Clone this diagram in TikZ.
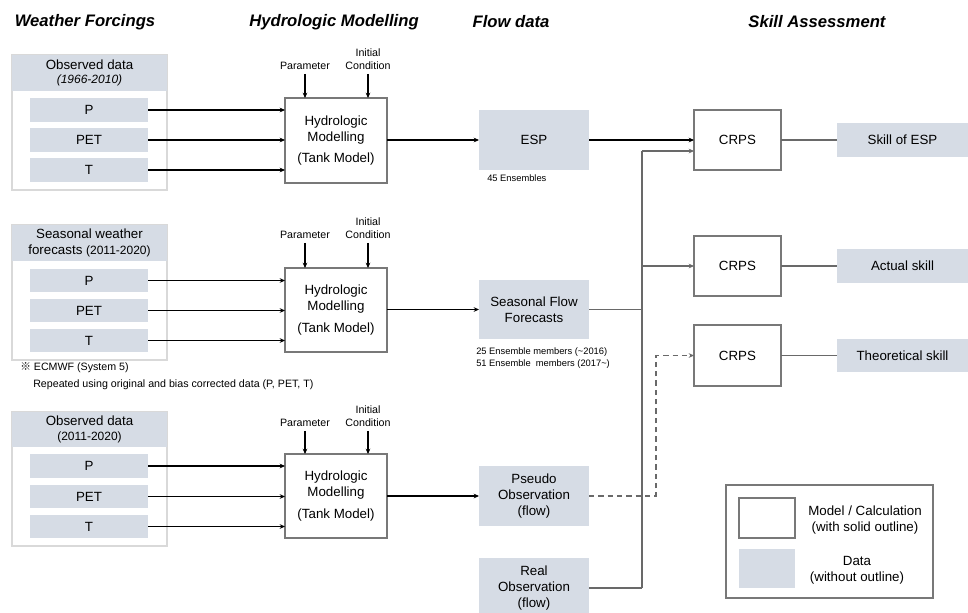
\documentclass[tikz,border=0pt]{standalone}
\usepackage{fontspec}
\setmainfont{Liberation Sans}
\newfontfamily\cjk{Noto Sans CJK JP}
\usetikzlibrary{arrows.meta}
\definecolor{datac}{RGB}{214,220,229}
\definecolor{modelc}{RGB}{120,120,120}
\definecolor{grpc}{RGB}{217,217,217}
\definecolor{linec}{RGB}{105,105,105}
\newcommand\bx[7]{\node[#2, minimum width={(#5-#3)*0.75pt}, minimum height={(#6-#4)*0.75pt}] (#1) at ({(#3+#5)/2},{(#4+#6)/2}) {#7};}
\tikzset{
  base/.style={inner sep=0pt, outer sep=0pt, align=center, font=\fontsize{10}{12}\selectfont},
  data/.style={base, fill=datac},
  model/.style={base, draw=modelc, line width=1.3pt, fill=white},
  grp/.style={base, draw=grpc, line width=1.1pt},
  arr/.style={-{Stealth[length=4pt,width=3.5pt]}, line width=1pt, black},
  garr/.style={-{Stealth[length=4pt,width=3.5pt]}, line width=1pt, linec},
  gline/.style={line width=1pt, linec},
  title/.style={font=\fontsize{12.5}{14}\selectfont\bfseries\itshape, inner sep=0pt},
  small/.style={font=\fontsize{8}{10}\selectfont, inner sep=3pt, align=center},
  note/.style={font=\fontsize{7}{9}\selectfont, inner sep=0pt, anchor=west},
  bignote/.style={font=\fontsize{8}{10}\selectfont, inner sep=0pt, anchor=west},
}
\begin{document}
\begin{tikzpicture}[x=0.75pt, y=-0.75pt]
\useasboundingbox (0,0) rectangle (968,612);
% titles
\node[title] (t1) at (85,22) {Weather Forcings};
\node[title] (t2) at (334,22) {Hydrologic Modelling};
\node[title] (t3) at (511,22) {Flow data};
\node[title] (t4) at (817,22) {Skill Assessment};

% group 1
\bx{g1}{grp}{12}{55}{167}{190}{}
\bx{h1}{data}{12}{55}{167}{91}{Observed data\\[-1pt]{\fontsize{9}{11}\selectfont\itshape (1966-2010)}}
\bx{p1}{data}{30}{98}{148}{122}{P}
\bx{e1}{data}{30}{128}{148}{152}{PET}
\bx{q1}{data}{30}{158}{148}{182}{T}
\bx{H1}{model}{285}{98}{387}{183}{Hydrologic\\Modelling\\[4pt](Tank Model)}
\node[small] (pa1) at (305,66) {Parameter};
\node[small] (ic1) at (368,59) {Initial\\Condition};

% group 2
\bx{g2}{grp}{12}{225}{167}{360}{}
\bx{h2}{data}{12}{225}{167}{261}{Seasonal weather\\forecasts {\fontsize{9}{11}\selectfont (2011-2020)}}
\bx{p2}{data}{30}{269}{148}{292}{P}
\bx{e2}{data}{30}{299}{148}{322}{PET}
\bx{q2}{data}{30}{329}{148}{352}{T}
\bx{H2}{model}{285}{268}{387}{352}{Hydrologic\\Modelling\\[4pt](Tank Model)}
\node[small] (pa2) at (305,235) {Parameter};
\node[small] (ic2) at (368,228) {Initial\\Condition};
\node[bignote] (n1) at (20,368) {{\cjk ※} ECMWF (System 5)};
\node[bignote] (n2) at (33,385) {Repeated using original and bias corrected data (P, PET, T)};

% group 3
\bx{g3}{grp}{12}{412}{167}{546}{}
\bx{h3}{data}{12}{412}{167}{447}{Observed data\\[-1pt]{\fontsize{9}{11}\selectfont (2011-2020)}}
\bx{p3}{data}{30}{454}{148}{478}{P}
\bx{e3}{data}{30}{485}{148}{508}{PET}
\bx{q3}{data}{30}{515}{148}{538}{T}
\bx{H3}{model}{285}{454}{387}{538}{Hydrologic\\Modelling\\[4pt](Tank Model)}
\node[small] (pa3) at (305,423) {Parameter};
\node[small] (ic3) at (368,416) {Initial\\Condition};

% flow data
\bx{ESP}{data}{479}{110}{589}{170}{ESP}
\node[note] (n3) at (487,178) {45 Ensembles};
\bx{SFF}{data}{479}{280}{589}{339}{Seasonal Flow\\Forecasts}
\node[note] (n4) at (476,352) {25 Ensemble members (\textasciitilde 2016)};
\node[note] (n5) at (476,364) {51 Ensemble\ \ members (2017\textasciitilde)};
\bx{PO}{data}{479}{466}{589}{526}{Pseudo\\Observation\\(flow)}
\bx{RO}{data}{479}{558}{589}{618}{Real\\Observation\\(flow)}

% skill
\bx{C1}{model}{694}{110}{781}{170}{CRPS}
\bx{C2}{model}{694}{236}{781}{296}{CRPS}
\bx{C3}{model}{694}{325}{781}{386}{CRPS}
\bx{S1}{data}{837}{123}{968}{157}{Skill of ESP}
\bx{S2}{data}{837}{249}{968}{283}{Actual skill}
\bx{S3}{data}{837}{339}{968}{372}{Theoretical skill}

% legend
\bx{L}{base}{726}{485}{933}{598}{}
\draw[line width=1pt, modelc] (L.north west) rectangle (L.south east);
\bx{Lm}{model}{739}{498}{795}{538}{}
\bx{Ld}{data}{739}{549}{795}{588}{}
\node[base] (Lmt) at (865,520) {Model / Calculation\\(with solid outline)};
\node[base] (Ldt) at (857,570) {Data\\(without outline)};

% arrows: forcings -> models
\foreach \a/\b in {p1/H1,e1/H1,q1/H1,p2/H2,e2/H2,q2/H2,p3/H3,e3/H3,q3/H3}{
  \draw[arr] (\a.east) -- (\a.east -| \b.west);
}
\foreach \a/\b in {pa1/H1,ic1/H1,pa2/H2,ic2/H2,pa3/H3,ic3/H3}{
  \draw[arr] (\a.south) -- (\a.south |- \b.north);
}
% models -> flow
\draw[arr] (H1.east |- ESP.west) -- (ESP.west);
\draw[arr] (H2.east |- SFF.west) -- (SFF.west);
\draw[arr] (H3.east |- PO.west) -- (PO.west);
% flow -> CRPS
\draw[arr] (ESP.east) -- (C1.west);
\coordinate (vt) at (642,151);
\coordinate (vb) at (642,588);
\draw[gline] (SFF.east) -- (SFF.east -| vt);
\draw[gline] (RO.east |- vb) -- (vb);
\draw[gline] (vb) -- (vt);
\draw[garr] (vt) -- (vt -| C1.west);
\draw[garr] (vt |- C2.west) -- (C2.west);
\coordinate (dv) at (656,496);
\draw[garr, dashed, dash pattern=on 4pt off 3pt] (PO.east) -- (dv) -- (dv |- C3.west) -- (C3.west);
% CRPS -> skill
\draw[gline] (C1.east) -- (S1.west);
\draw[gline] (C2.east) -- (C2.east -| S2.west);
\draw[gline] (C3.east) -- (C3.east -| S3.west);
\end{tikzpicture}
\end{document}
